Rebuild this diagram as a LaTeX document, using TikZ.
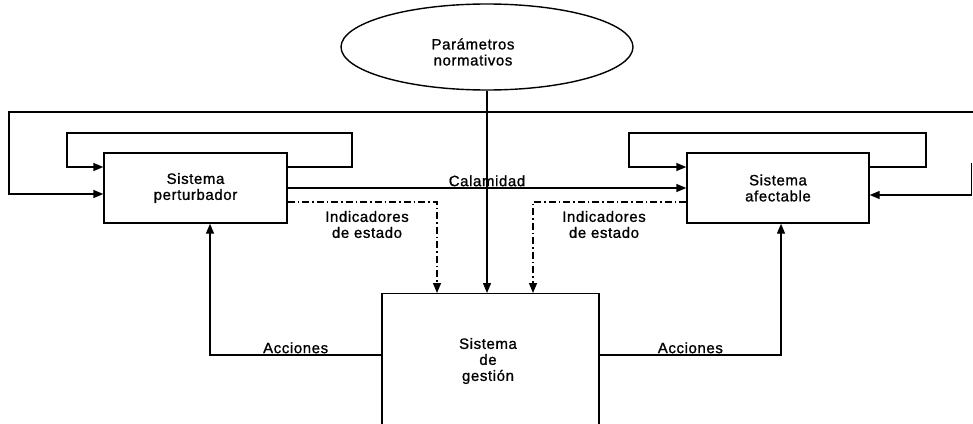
\documentclass[tikz,border=0pt]{standalone}
\usepackage{fontspec}
\setmainfont{Liberation Sans}[LetterSpace=4,FakeBold=1]
\usetikzlibrary{arrows.meta,shapes.geometric}
\begin{document}
\begin{tikzpicture}[x=1pt,y=-1pt,
  every node/.style={font=\fontsize{15}{16}\selectfont},
  line/.style={line width=1.4pt},
  arr/.style={line, -{Triangle[length=10pt,width=8pt]}},
  dd/.style={arr, dash pattern=on 7pt off 3pt on 1.5pt off 3pt},
  sysbox/.style={draw, line width=1.4pt, inner sep=0pt, align=center},
  lbl/.style={inner sep=1pt, align=center}
]
\useasboundingbox (0,0) rectangle (973,423);
\clip (0,0) rectangle (973,423);

% nodes
\node[sysbox, minimum width=183pt, minimum height=70pt] (pert) at (195.5,188) {Sistema\\perturbador};
\node[sysbox, minimum width=182pt, minimum height=70pt] (afec) at (778,188) {Sistema\\afectable};
\node[sysbox, minimum width=217pt, minimum height=200pt, anchor=north] (gest) at (490.5,293) {};
\node[lbl] (gtxt) at (488,361) {Sistema\\de\\gestión};
\node[draw, ellipse, line, minimum width=292pt, minimum height=86pt, inner sep=0pt] (param) at (487,47) {};
\node[lbl] (ptxt) at (473,52) {Parámetros\\normativos};
\node[lbl] (indL) at (367,224.5) {Indicadores\\de estado};
\node[lbl] (indR) at (604,224.5) {Indicadores\\de estado};

% outer loop
\coordinate (oTR) at (975,112);
\coordinate (oL) at (9,194);
\draw[arr] (oTR) -| (oL) -- (pert.west |- oL);
\coordinate (oRT) at (971.5,163);
\coordinate (oRB) at (971.5,195);
\draw[arr] (oRT) -- (oRB) -- (afec.east |- oRB);

% inner left loop
\coordinate (ilR) at (352,133);
\coordinate (ilL) at (67,167);
\draw[arr] (pert.east |- ilL) -| (ilR) -| (ilL) -- (pert.west |- ilL);

% inner right loop
\coordinate (irR) at (926,133);
\coordinate (irL) at (629,167);
\draw[arr] (afec.east |- irL) -| (irR) -| (irL) -- (afec.west |- irL);

% Calamidad
\coordinate (cal) at (0,188);
\draw[arr] (pert.east |- cal) -- node[lbl, anchor=south] (calt) {Calamidad} (afec.west |- cal);

% state indicators
\coordinate (dL) at (437,202);
\draw[dd] (pert.east |- dL) -| (gest.north -| dL);
\coordinate (dR) at (533,202);
\draw[dd] (afec.west |- dR) -| (gest.north -| dR);

% normative parameters
\draw[arr] (param.south) -- (gest.north -| param.south);

% actions
\coordinate (aL) at (210,355);
\draw[arr] (gest.west |- aL) -| (pert.south -| aL) node[lbl, pos=0.25, anchor=south] (acL) {Acciones};
\coordinate (aR) at (781,355);
\draw[arr] (gest.east |- aR) -| (afec.south -| aR) node[lbl, pos=0.25, anchor=south] (acR) {Acciones};
\end{tikzpicture}
\end{document}
